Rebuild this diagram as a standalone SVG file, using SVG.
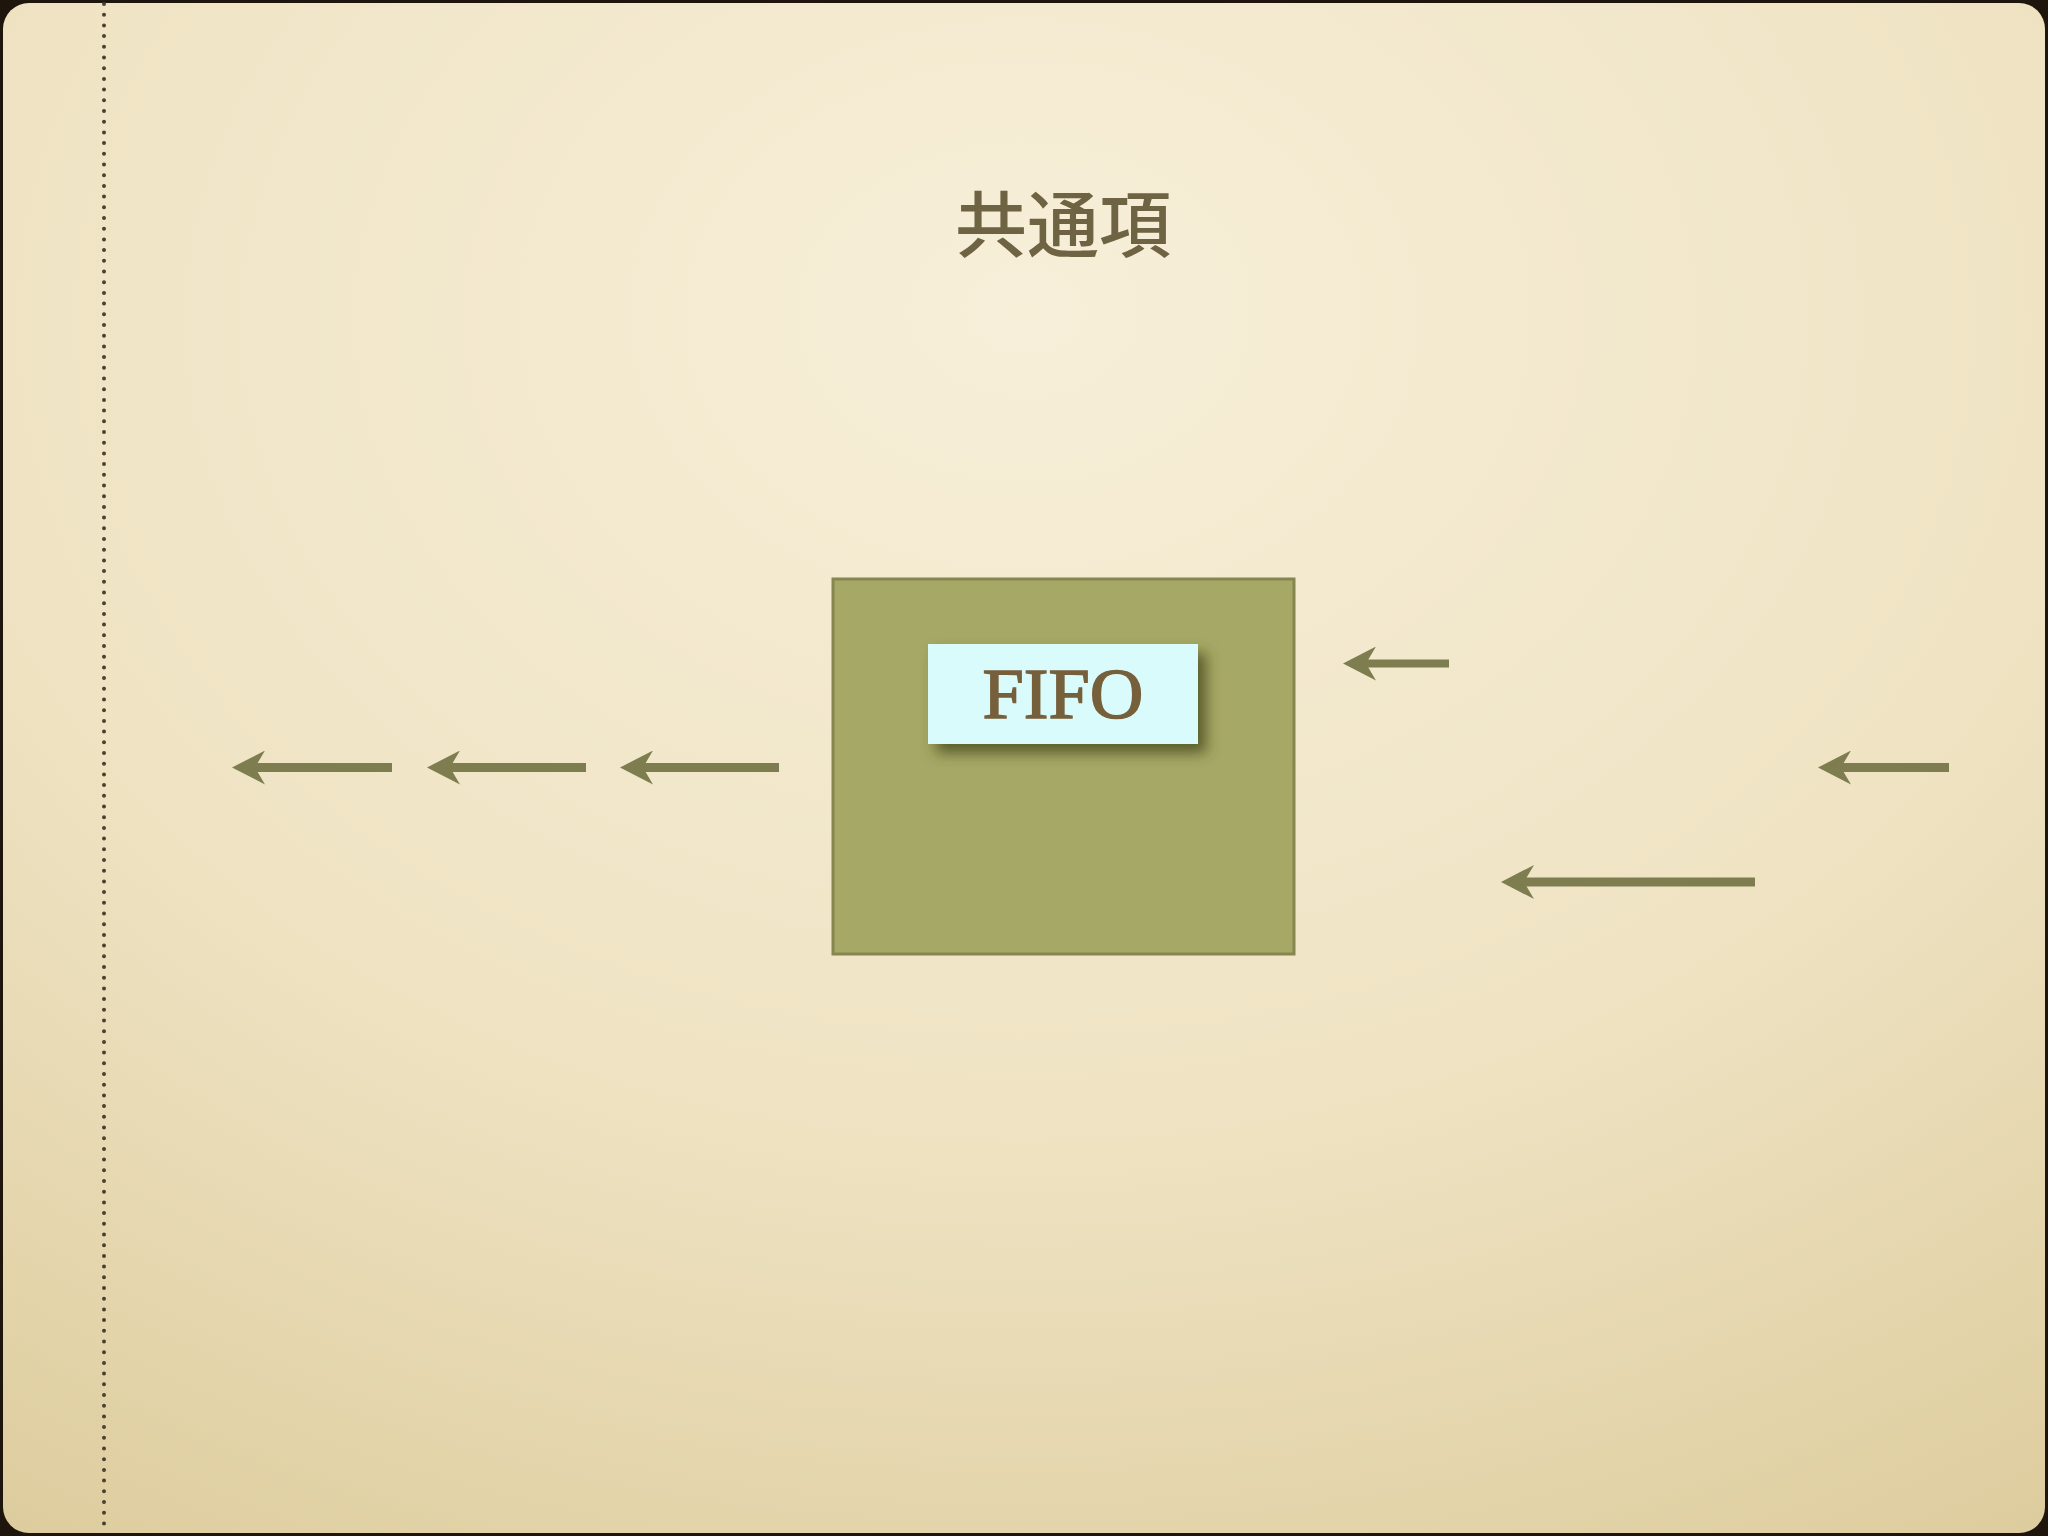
<svg xmlns="http://www.w3.org/2000/svg" width="2048" height="1536" viewBox="0 0 2048 1536">
  <defs>
    <radialGradient id="paper" cx="0.5" cy="0.22" r="0.95" fx="0.5" fy="0.2">
      <stop offset="0" stop-color="#f7efd9"/>
      <stop offset="0.55" stop-color="#efe3c3"/>
      <stop offset="1" stop-color="#dccb9b"/>
    </radialGradient>
    <filter id="shadow" x="-20%" y="-30%" width="150%" height="180%">
      <feGaussianBlur in="SourceAlpha" stdDeviation="7"/>
      <feOffset dx="8" dy="9" result="b"/>
      <feFlood flood-color="#3f4318" flood-opacity="0.75"/>
      <feComposite in2="b" operator="in"/>
      <feMerge><feMergeNode/><feMergeNode in="SourceGraphic"/></feMerge>
    </filter>
    <marker id="head" markerUnits="userSpaceOnUse" viewBox="0 0 34 34" refX="22" refY="17" markerWidth="34" markerHeight="34" orient="auto">
      <path d="M0,17 L33,0 L23,17 L33,34 Z" fill="#7e7d50"/>
    </marker>
    <style>
      .arrow { stroke: #7e7d50; stroke-width: 9; fill: none; marker-start: url(#head); }
      .title { font-family: "Noto Sans CJK JP", "Noto Sans CJK SC", sans-serif; font-size: 72px; font-weight: 500; fill: #6e6444; }
      .label { font-family: "Liberation Serif", "DejaVu Serif", serif; font-size: 72px; fill: #76603c; stroke: #76603c; stroke-width: 1.5; }
    </style>
  </defs>

  <rect x="0" y="0" width="2048" height="1536" fill="#1e160c"/>
  <rect x="3" y="3" width="2042" height="1530" rx="26" ry="26" fill="url(#paper)"/>
  <line x1="104" y1="4" x2="104" y2="1532" stroke="#4a4030" stroke-width="4" stroke-linecap="round" stroke-dasharray="0 10.7"/>

  <g id="title">
    <text class="title" x="1063" y="251" text-anchor="middle">共通項</text>
  </g>

  <g id="fifo-container">
    <rect x="833" y="579" width="461" height="375" fill="#a6a866" stroke="#888650" stroke-width="3"/>
  </g>

  <g id="fifo-label">
    <rect x="928" y="644" width="270" height="100" fill="#d9fbfb" filter="url(#shadow)"/>
    <text class="label" x="1063" y="718" text-anchor="middle" textLength="161" lengthAdjust="spacingAndGlyphs">FIFO</text>
  </g>

  <g id="connectors">
    <path class="arrow" d="M254,767.5 H392"/>
    <path class="arrow" d="M449,767.5 H586"/>
    <path class="arrow" d="M642,767.5 H779"/>
    <path class="arrow" d="M1365,663.5 H1449" style="stroke-width:8"/>
    <path class="arrow" d="M1523,882 H1755"/>
    <path class="arrow" d="M1840,767.5 H1949"/>
  </g>
</svg>
